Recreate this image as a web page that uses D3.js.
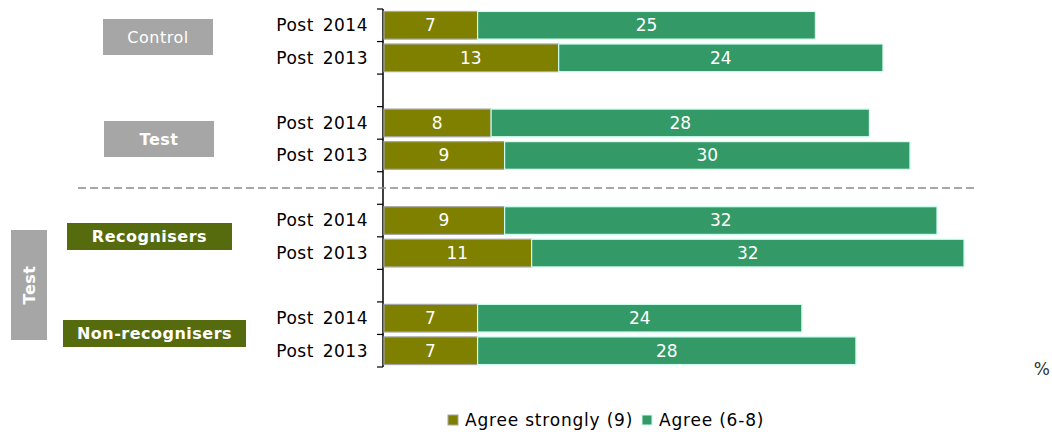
<!DOCTYPE html>
<html>
<head>
<meta charset="utf-8">
<script src="https://cdn.jsdelivr.net/npm/d3@7"></script>
<style>
  html, body { margin: 0; padding: 0; background: #fff; }
  svg { display: block; font-family: "DejaVu Sans", Verdana, sans-serif; }
</style>
</head>
<body>
<svg id="chart" width="1052" height="432"></svg>
<script>
// Rows, top to bottom (gap rows separate the groups)
const rowKeys = ["c14", "c13", "gap1", "t14", "t13", "gap2", "r14", "r13", "gap3", "n14", "n13"];
const barRows = ["c14", "c13", "t14", "t13", "r14", "r13", "n14", "n13"];
const periods = ["Post 2014", "Post 2013", "Post 2014", "Post 2013", "Post 2014", "Post 2013", "Post 2014", "Post 2013"];
const agreeStrongly = [7, 13, 8, 9, 9, 11, 7, 7];
const agree = [25, 24, 28, 30, 32, 32, 24, 28];
const seriesNames = ["Agree strongly (9)", "Agree (6-8)"];
const groupLabels = ["Control", "Test", "Recognisers", "Non-recognisers"];
const sideLabel = "Test";
const unitLabel = "%";

const olive = "#808000", green = "#339966";

const svg = d3.select("#chart");

const x = d3.scaleLinear().domain([0, 43]).range([383, 964]);
const y = d3.scaleBand().domain(rowKeys).range([9, 367]).paddingInner(0.15).paddingOuter(0.075);

// Category axis: ticks at every row boundary
const step = y.step();
const axisG = svg.append("g");
axisG.append("line")
  .attr("x1", x(0)).attr("x2", x(0))
  .attr("y1", 9).attr("y2", 367)
  .attr("stroke", "#000").attr("stroke-width", 1.5);
d3.range(rowKeys.length + 1).forEach(i => {
  const yy = 9 + i * step;
  axisG.append("line")
    .attr("x1", x(0) - 6).attr("x2", x(0))
    .attr("y1", yy).attr("y2", yy)
    .attr("stroke", "#000").attr("stroke-width", 1.2);
});

const rows = barRows.map((k, i) => ({ key: k, period: periods[i], a: agreeStrongly[i], b: agree[i] }));

// Period labels
svg.append("g").selectAll("text").data(rows).join("text")
  .attr("x", 368)
  .attr("y", d => y(d.key) + y.bandwidth() / 2)
  .attr("dy", "0.35em")
  .attr("text-anchor", "end")
  .attr("font-size", 17)
  .attr("fill", "#000")
  .attr("letter-spacing", 0.5)
  .attr("word-spacing", 3)
  .text(d => d.period);

// Stacked bars
const bars = svg.append("g");
bars.selectAll("rect.s").data(rows).join("rect")
  .attr("class", "s")
  .attr("x", x(0) + 1)
  .attr("y", d => y(d.key))
  .attr("width", d => x(d.a) - x(0) - 1)
  .attr("height", y.bandwidth())
  .attr("fill", olive)
  .attr("stroke", "#a6a6a6").attr("stroke-width", 1.2);
bars.selectAll("rect.g").data(rows).join("rect")
  .attr("class", "g")
  .attr("x", d => x(d.a))
  .attr("y", d => y(d.key))
  .attr("width", d => x(d.a + d.b) - x(d.a))
  .attr("height", y.bandwidth())
  .attr("fill", green)
  .attr("stroke", "#ccfff0").attr("stroke-width", 1.2);

// Value labels
const vals = svg.append("g").attr("font-size", 17).attr("fill", "#fff").attr("text-anchor", "middle");
vals.selectAll("text.s").data(rows).join("text")
  .attr("class", "s")
  .attr("x", d => (x(0) + x(d.a)) / 2)
  .attr("y", d => y(d.key) + y.bandwidth() / 2)
  .attr("dy", "0.35em")
  .text(d => d.a);
vals.selectAll("text.g").data(rows).join("text")
  .attr("class", "g")
  .attr("x", d => (x(d.a) + x(d.a + d.b)) / 2)
  .attr("y", d => y(d.key) + y.bandwidth() / 2)
  .attr("dy", "0.35em")
  .text(d => d.b);

// Separator between the two halves
svg.append("line")
  .attr("x1", 78).attr("x2", 977)
  .attr("y1", 188).attr("y2", 188)
  .attr("stroke", "#8c8c8c").attr("stroke-width", 1.3)
  .attr("stroke-dasharray", "8,4");

// Group boxes
const boxes = [
  { label: groupLabels[0], x: 103, y: 19, w: 110, h: 36, fill: "#a6a6a6", bold: false },
  { label: groupLabels[1], x: 104, y: 121, w: 110, h: 36, fill: "#a6a6a6", bold: true },
  { label: groupLabels[2], x: 67, y: 223, w: 165, h: 27, fill: "#566b0e", bold: true },
  { label: groupLabels[3], x: 63, y: 320, w: 183, h: 27, fill: "#566b0e", bold: true }
];
const bg = svg.append("g");
bg.selectAll("rect").data(boxes).join("rect")
  .attr("x", d => d.x).attr("y", d => d.y)
  .attr("width", d => d.w).attr("height", d => d.h)
  .attr("fill", d => d.fill);
bg.selectAll("text").data(boxes).join("text")
  .attr("x", d => d.x + d.w / 2)
  .attr("y", d => d.y + d.h / 2)
  .attr("dy", "0.35em")
  .attr("text-anchor", "middle")
  .attr("font-size", 16)
  .attr("letter-spacing", 0.5)
  .attr("font-weight", d => d.bold ? "bold" : "normal")
  .attr("fill", "#fff")
  .text(d => d.label);

// Vertical side box
svg.append("rect").attr("x", 11).attr("y", 230).attr("width", 36).attr("height", 110).attr("fill", "#a6a6a6");
svg.append("text")
  .attr("transform", "translate(29,285) rotate(-90)")
  .attr("dy", "0.35em")
  .attr("text-anchor", "middle")
  .attr("font-size", 16).attr("font-weight", "bold").attr("fill", "#fff")
  .attr("letter-spacing", 0.5)
  .text(sideLabel);

// Unit
svg.append("text").attr("x", 1050).attr("y", 375).attr("text-anchor", "end")
  .attr("font-size", 17).attr("fill", "#333").text(unitLabel);

// Legend
const legend = [
  { name: seriesNames[0], color: olive, stroke: "#a6a6a6", x: 448 },
  { name: seriesNames[1], color: green, stroke: "#ccfff0", x: 642 }
];
const lg = svg.append("g");
lg.selectAll("rect").data(legend).join("rect")
  .attr("x", d => d.x).attr("y", 415).attr("width", 10).attr("height", 10)
  .attr("fill", d => d.color).attr("stroke", d => d.stroke);
lg.selectAll("text").data(legend).join("text")
  .attr("x", d => d.x + 17).attr("y", 420).attr("dy", "0.35em")
  .attr("font-size", 17).attr("fill", "#000")
  .attr("letter-spacing", 0.8)
  .text(d => d.name);
</script>
</body>
</html>
